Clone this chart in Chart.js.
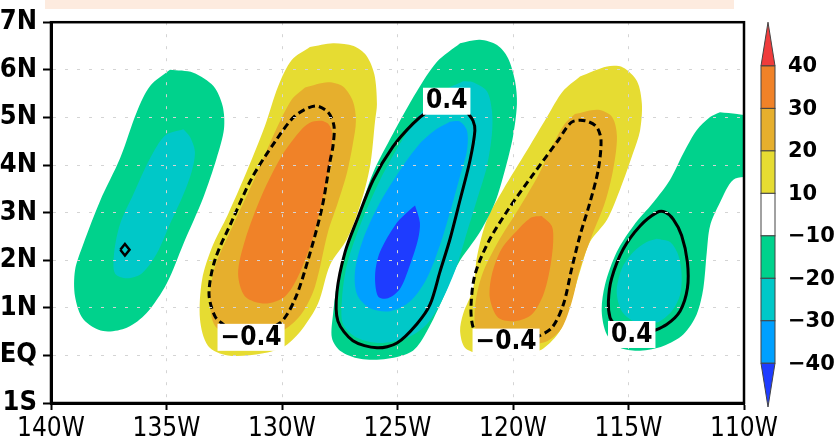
<!DOCTYPE html>
<html>
<head>
<meta charset="utf-8">
<title>Contour map</title>
<script src="https://cdn.jsdelivr.net/npm/chart.js@4.4.0/dist/chart.umd.min.js"></script>
<style>
  html, body { margin: 0; padding: 0; background: #fff; }
  #wrap { width: 840px; height: 443px; }
</style>
</head>
<body>
<div id="wrap"><canvas id="chart" width="840" height="443"></canvas></div>
<script>
// axes
const lonTicks = [-140, -135, -130, -125, -120, -115, -110]
const lonLabels = ["140W", "135W", "130W", "125W", "120W", "115W", "110W"]
const latTicks = [-1, 0, 1, 2, 3, 4, 5, 6, 7]
const latLabels = ["1S", "EQ", "1N", "2N", "3N", "4N", "5N", "6N", "7N"]

// colour scale (shading levels and the 9 colour bins between them)
const levels = [-40, -30, -20, -10, 10, 20, 30, 40]
const binColors = [
    "#1e3cff", "#00a0ff", "#00c8c8", "#00d28c", "#ffffff",
    "#e6dc32", "#e6af2d", "#f08228", "#f03c3c",
]

// shaded areas, [lon, lat] outlines of each level
const shadeA10 = [[-134.85, 6.0], [-133.84, 5.94], [-132.97, 5.66], [-132.57, 5.24], [-132.51, 4.76], [-132.83, 4.14], [-133.41, 3.31], [-134.27, 2.34], [-134.99, 1.51], [-135.86, 0.89], [-136.72, 0.58], [-137.74, 0.51], [-138.6, 0.76], [-138.96, 1.24], [-138.96, 1.79], [-138.6, 2.34], [-137.88, 3.24], [-137.01, 4.14], [-136.29, 5.11], [-135.71, 5.66]]
const shadeA20 = [[-134.27, 4.75], [-133.98, 4.59], [-133.77, 4.28], [-133.91, 3.86], [-134.27, 3.38], [-134.85, 2.76], [-135.42, 2.14], [-136.07, 1.72], [-136.72, 1.62], [-137.23, 1.72], [-137.27, 2.14], [-137.01, 2.76], [-136.44, 3.38], [-135.71, 4.14], [-135.06, 4.62]]

const shadeB10 = [[-128.79, 6.48], [-127.79, 6.56], [-126.9, 6.5], [-126.35, 6.3], [-126.0, 5.9], [-125.89, 5.28], [-125.97, 4.93], [-126.19, 3.97], [-126.62, 3.15], [-127.19, 2.44], [-127.92, 1.9], [-128.44, 1.09], [-129.13, 0.55], [-129.87, 0.2], [-130.87, 0.04], [-132.34, 0.0], [-133.2, 0.2], [-133.55, 0.76], [-133.46, 1.59], [-133.03, 2.27], [-132.34, 2.96], [-131.47, 3.93], [-130.74, 4.82], [-130.17, 5.65], [-129.57, 6.21]]
const shadeB20 = [[-129.0, 5.63], [-128.01, 5.74], [-127.36, 5.65], [-126.93, 5.34], [-126.8, 4.93], [-126.93, 4.45], [-127.19, 3.83], [-127.58, 3.21], [-128.01, 2.59], [-128.57, 1.45], [-129.13, 0.89], [-129.87, 0.55], [-130.87, 0.41], [-132.03, 0.41], [-132.9, 0.62], [-133.12, 1.18], [-132.9, 1.86], [-132.16, 2.69], [-131.17, 3.73], [-130.3, 4.7], [-129.57, 5.38]]
const shadeB30 = [[-128.27, 4.93], [-128.01, 4.87], [-127.84, 4.7], [-127.92, 4.08], [-128.27, 3.25], [-128.7, 2.42], [-129.31, 1.65], [-129.87, 1.24], [-130.74, 1.09], [-131.6, 1.24], [-131.9, 1.72], [-131.6, 2.42], [-130.87, 3.37], [-130.0, 4.2], [-129.13, 4.76], [-128.7, 4.91]]

const shadeC10 = [[-122.29, 6.56], [-121.43, 6.63], [-120.69, 6.52], [-120.22, 6.25], [-119.91, 5.76], [-119.83, 5.28], [-120.0, 4.6], [-120.35, 3.89], [-120.78, 3.21], [-121.43, 2.59], [-122.38, 1.92], [-123.03, 1.2], [-123.72, 0.51], [-124.33, 0.1], [-125.45, -0.07], [-126.62, -0.07], [-127.49, 0.1], [-127.84, 0.37], [-127.79, 0.87], [-127.62, 1.49], [-127.36, 2.03], [-126.75, 2.85], [-126.06, 3.83], [-125.19, 4.66], [-124.16, 5.55], [-123.29, 6.17]]
const shadeC20 = [[-122.16, 5.76], [-121.73, 5.74], [-121.13, 5.55], [-120.91, 5.13], [-120.91, 4.66], [-121.13, 3.97], [-121.56, 3.27], [-121.99, 2.59], [-122.42, 1.9], [-123.03, 1.2], [-123.72, 0.66], [-124.59, 0.37], [-125.76, 0.26], [-126.75, 0.37], [-127.36, 0.66], [-127.4, 1.2], [-127.19, 1.9], [-126.62, 2.73], [-125.76, 3.68], [-124.89, 4.45], [-124.03, 5.07], [-123.03, 5.55]]
const shadeC30 = [[-122.73, 4.91], [-122.29, 4.91], [-121.99, 4.72], [-121.99, 4.31], [-122.29, 3.77], [-122.73, 3.0], [-123.16, 2.32], [-123.74, 1.61], [-124.46, 1.13], [-125.32, 0.93], [-126.19, 0.99], [-126.75, 1.28], [-126.84, 1.76], [-126.49, 2.44], [-125.76, 3.21], [-124.89, 3.89], [-124.03, 4.45], [-123.29, 4.76]]
const shadeC40 = [[-124.24, 3.15], [-124.03, 2.79], [-124.11, 2.44], [-124.46, 1.9], [-124.89, 1.4], [-125.41, 1.2], [-125.84, 1.24], [-125.97, 1.69], [-125.76, 2.17], [-125.02, 2.79], [-124.46, 3.06]]

const shadeD10 = [[-117.1, 5.86], [-115.93, 6.07], [-115.24, 6.05], [-114.63, 5.76], [-114.42, 5.28], [-114.5, 4.72], [-114.81, 4.24], [-115.37, 3.48], [-115.93, 2.85], [-116.67, 2.38], [-117.1, 1.76], [-117.53, 1.07], [-117.97, 0.51], [-118.7, 0.14], [-119.39, 0.04], [-121.43, 0.04], [-122.08, 0.16], [-122.29, 0.51], [-122.16, 0.87], [-121.73, 1.4], [-121.56, 2.07], [-121.13, 2.85], [-120.43, 3.48], [-119.39, 4.31], [-118.53, 5.01], [-117.84, 5.55]]
const shadeD20 = [[-117.32, 5.07], [-116.32, 5.16], [-115.71, 5.01], [-115.5, 4.6], [-115.67, 3.89], [-116.02, 3.21], [-116.58, 2.52], [-117.1, 1.82], [-117.45, 1.13], [-117.88, 0.58], [-118.48, 0.31], [-119.18, 0.24], [-120.4, 0.3], [-121.52, 0.45], [-121.65, 0.99], [-121.34, 1.69], [-120.65, 2.38], [-119.78, 3.06], [-118.92, 3.77], [-118.18, 4.51], [-117.75, 4.87]]
const shadeD30 = [[-118.76, 2.93], [-118.32, 2.72], [-118.26, 2.38], [-118.4, 1.82], [-118.69, 1.27], [-119.19, 0.86], [-119.91, 0.72], [-120.64, 0.79], [-121.0, 1.2], [-120.92, 1.69], [-120.49, 2.24], [-119.77, 2.65], [-119.19, 2.9]]

const shadeE10 = [[-111.04, 5.11], [-110.3, 5.07], [-109.5, 4.95], [-109.5, 3.83], [-110.46, 3.69], [-111.04, 3.21], [-111.47, 2.72], [-111.61, 2.17], [-111.76, 1.41], [-112.05, 0.86], [-112.63, 0.44], [-113.49, 0.2], [-114.5, 0.1], [-115.37, 0.16], [-115.94, 0.44], [-116.16, 0.93], [-116.02, 1.48], [-115.51, 2.17], [-114.79, 2.72], [-113.93, 3.21], [-113.2, 3.69], [-112.63, 4.24], [-112.05, 4.73], [-111.47, 5.01]]
const shadeE20 = [[-113.78, 2.45], [-113.2, 2.38], [-112.84, 2.1], [-112.7, 1.69], [-112.77, 1.27], [-113.13, 0.93], [-113.78, 0.69], [-114.65, 0.69], [-115.29, 0.93], [-115.51, 1.34], [-115.29, 1.82], [-114.79, 2.17], [-114.21, 2.38]]

// +/-0.4 contour lines
const contourA = [[-137.0, 2.22], [-136.8, 2.34], [-136.6, 2.22], [-136.8, 2.1]]
const contourB = [[-132.47, 0.62], [-132.9, 0.82], [-133.16, 1.3], [-132.9, 2.01], [-132.16, 2.83], [-131.3, 3.73], [-130.3, 4.49], [-129.44, 5.03], [-128.57, 5.24], [-128.01, 5.11], [-127.75, 4.82], [-127.79, 4.41], [-127.92, 4.08], [-128.27, 3.1], [-128.87, 2.01], [-129.44, 1.18], [-130.09, 0.68], [-131.17, 0.51]]
const contourC = [[-121.99, 5.11], [-121.73, 4.93], [-121.65, 4.72], [-121.86, 4.1], [-122.29, 3.27], [-122.73, 2.44], [-123.16, 1.76], [-123.59, 1.07], [-124.16, 0.66], [-125.02, 0.26], [-125.89, 0.16], [-126.93, 0.31], [-127.58, 0.72], [-127.62, 1.34], [-127.27, 2.17], [-126.75, 2.85], [-126.06, 3.68], [-125.19, 4.39], [-124.33, 4.87], [-123.68, 5.13], [-122.86, 5.34]]
const contourD = [[-119.05, 0.36], [-118.32, 0.58], [-117.82, 1.07], [-117.46, 1.82], [-117.1, 2.52], [-116.67, 3.21], [-116.31, 3.9], [-116.19, 4.52], [-116.38, 4.8], [-116.88, 4.93], [-117.46, 4.9], [-118.04, 4.52], [-119.19, 3.76], [-120.2, 3.07], [-121.07, 2.38], [-121.65, 1.69], [-121.82, 1.0], [-121.72, 0.58], [-121.43, 0.44], [-120.3, 0.3]]
const contourE = [[-114.07, 0.48], [-113.35, 0.65], [-112.77, 0.93], [-112.45, 1.41], [-112.45, 1.96], [-112.7, 2.52], [-113.06, 2.86], [-113.42, 3.01], [-113.78, 3.0], [-114.5, 2.72], [-115.22, 2.24], [-115.73, 1.62], [-115.87, 1.13], [-115.8, 0.79], [-115.58, 0.65], [-114.86, 0.45]]

// contour labels
const labelText = ["−0.4", "0.4", "−0.4", "0.4"]
const labelLon = [-131.34, -122.87, -120.3, -114.86]
const labelLat = [0.39, 5.35, 0.29, 0.45]

const shading = [
    [-10, shadeA10], [-20, shadeA20],
    [10, shadeB10], [20, shadeB20], [30, shadeB30],
    [-10, shadeC10], [-20, shadeC20], [-30, shadeC30], [-40, shadeC40],
    [10, shadeD10], [20, shadeD20], [30, shadeD30],
    [-10, shadeE10], [-20, shadeE20],
]
const contours = [
    [0.4, contourA], [-0.4, contourB], [0.4, contourC],
    [-0.4, contourD], [0.4, contourE],
]

// colour of the area beyond a shading level
function shadeColor(level) {
    const i = levels.indexOf(level)
    return level < 0 ? binColors[i] : binColors[i + 1]
}

// close the outline so the line ends where it starts
function ring(pts) {
    const out = pts.map((p) => ({ x: p[0], y: p[1] }))
    out.push({ x: pts[0][0], y: pts[0][1] })
    return out
}

const datasets = []
shading.forEach(([level, pts]) => {
    datasets.push({
        data: ring(pts),
        showLine: true,
        fill: "shape",
        backgroundColor: shadeColor(level),
        borderWidth: 0,
        pointRadius: 0,
        tension: 0.3,
        order: 10 - Math.abs(level) / 10, // wider bands go underneath
    })
})
contours.forEach(([value, pts]) => {
    datasets.push({
        data: ring(pts),
        showLine: true,
        fill: false,
        borderColor: "#000",
        borderWidth: pts.length < 6 ? 2.5 : 3,
        borderDash: value < 0 ? [7, 4] : [],
        pointRadius: 0,
        tension: pts.length < 6 ? 0 : 0.3,
        order: 1,
    })
})

const narrow = "'Liberation Sans Narrow', 'DejaVu Sans Condensed', 'Arial Narrow', sans-serif"

// frame, contour labels, colour bar
const decorations = {
    id: "decorations",
    beforeDraw(chart) {
        const { ctx, chartArea: a } = chart
        ctx.save()
        ctx.fillStyle = "#fdebdf"
        ctx.fillRect(a.left - 6, 0, a.right - a.left - 4, 9)
        ctx.restore()
    },
    afterDraw(chart) {
        const { ctx, chartArea: a, scales } = chart
        ctx.save()

        ctx.strokeStyle = "#000"
        ctx.lineWidth = 2.5
        ctx.strokeRect(a.left, a.top, a.right - a.left, a.bottom - a.top)

        ctx.font = "bold 26px " + narrow
        ctx.textAlign = "center"
        ctx.textBaseline = "middle"
        labelText.forEach((t, i) => {
            const x = scales.x.getPixelForValue(labelLon[i])
            const y = scales.y.getPixelForValue(labelLat[i])
            const w = ctx.measureText(t).width + 6
            ctx.fillStyle = "#fff"
            ctx.fillRect(x - w / 2, y - 13, w, 27)
            ctx.fillStyle = "#000"
            ctx.fillText(t, x, y + 1)
        })

        // colour bar with pointed ends
        const bx = a.right + 17
        const bw = 14
        const top = a.top
        const bottom = a.bottom + 4
        const n = levels.length - 1
        const seg = (bottom - top) / (n + 2.06)
        const tri = seg * 1.03
        ctx.lineWidth = 1
        ctx.strokeStyle = "#444"

        ctx.beginPath()
        ctx.moveTo(bx + bw / 2, top)
        ctx.lineTo(bx + bw, top + tri)
        ctx.lineTo(bx, top + tri)
        ctx.closePath()
        ctx.fillStyle = binColors[binColors.length - 1]
        ctx.fill()
        ctx.stroke()

        for (let k = 0; k < n; k++) {
            const y0 = top + tri + k * seg
            ctx.fillStyle = binColors[binColors.length - 2 - k]
            ctx.fillRect(bx, y0, bw, seg)
            ctx.strokeRect(bx, y0, bw, seg)
        }

        ctx.beginPath()
        ctx.moveTo(bx, bottom - tri)
        ctx.lineTo(bx + bw, bottom - tri)
        ctx.lineTo(bx + bw / 2, bottom)
        ctx.closePath()
        ctx.fillStyle = binColors[0]
        ctx.fill()
        ctx.stroke()

        ctx.fillStyle = "#000"
        ctx.font = "bold 21px 'DejaVu Sans', sans-serif"
        ctx.textAlign = "left"
        const desc = levels.slice().reverse()
        desc.forEach((lv, k) => {
            const y = top + tri + k * seg
            const t = lv < 0 ? "−" + Math.abs(lv) : String(lv)
            ctx.fillText(t, bx + bw + 13, y + 1)
        })

        ctx.restore()
    },
}

new Chart(document.getElementById("chart"), {
    type: "scatter",
    data: { datasets },
    options: {
        responsive: false,
        animation: false,
        events: [],
        devicePixelRatio: 1,
        layout: { padding: { top: 17, right: 96, left: 0, bottom: 0 } },
        plugins: { legend: { display: false }, tooltip: { enabled: false } },
        scales: {
            x: {
                type: "linear",
                min: -140,
                max: -110,
                afterBuildTicks: (s) => { s.ticks = lonTicks.map((v) => ({ value: v })) },
                afterFit: (s) => { s.height = 40 },
                ticks: {
                    callback: (v) => lonLabels[lonTicks.indexOf(v)],
                    color: "#000",
                    font: { family: narrow, size: 26 },
                    padding: 4,
                    maxRotation: 0,
                },
                grid: { color: "#d4d4d4", lineWidth: 1, tickColor: "#000", tickLength: 7, tickWidth: 2, z: 1 },
                border: { color: "#000", width: 3, dash: [3, 9], z: 1 },
            },
            y: {
                type: "linear",
                min: -1,
                max: 7,
                afterBuildTicks: (s) => { s.ticks = latTicks.map((v) => ({ value: v })) },
                afterFit: (s) => { s.width = 51 },
                ticks: {
                    callback: (v) => latLabels[latTicks.indexOf(v)],
                    color: "#000",
                    font: { family: narrow, size: 27, weight: "bold" },
                    padding: 6,
                },
                grid: { color: "#d4d4d4", lineWidth: 1, tickColor: "#000", tickLength: 8, tickWidth: 2, z: 1 },
                border: { color: "#000", width: 3, dash: [3, 9], z: 1 },
            },
        },
    },
    plugins: [decorations],
})
</script>
</body>
</html>
